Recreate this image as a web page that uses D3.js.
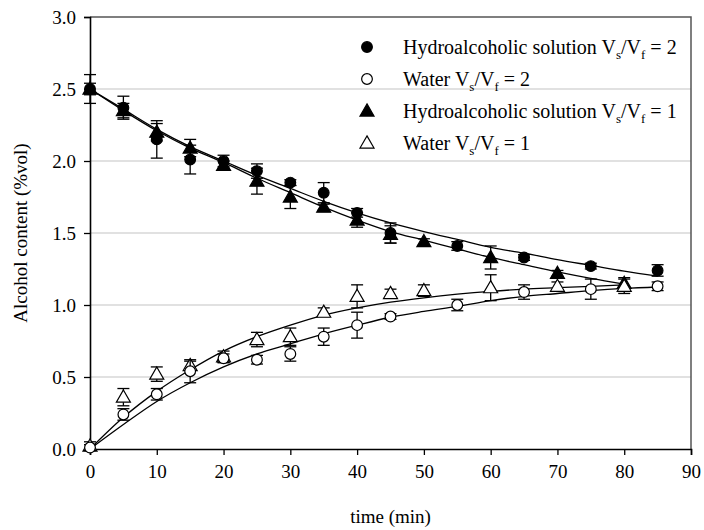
<!DOCTYPE html>
<html>
<head>
<meta charset="utf-8">
<script src="https://cdn.jsdelivr.net/npm/d3@7"></script>
<style>
body { margin: 0; background: white; }
text { font-family: "Liberation Serif", "Times New Roman", serif; }
</style>
</head>
<body>
<svg id="chart"></svg>
<script>
// sampling times (min)
const timeA = [0, 5, 10, 15, 20, 25, 30, 35, 40, 45, 55, 65, 75, 85]   // Vs/Vf = 2
const timeB = [0, 5, 10, 15, 20, 25, 30, 35, 40, 45, 50, 60, 70, 80]   // Vs/Vf = 1

// Vs/Vf = 2
const hydroA = [2.50, 2.37, 2.15, 2.01, 2.00, 1.93, 1.85, 1.78, 1.64, 1.50, 1.41, 1.33, 1.27, 1.24]
const hydroAErr = [0.10, 0.08, 0.13, 0.10, 0.04, 0.05, 0.02, 0.07, 0.03, 0.07, 0.03, 0.02, 0.02, 0.04]
const waterA = [0.01, 0.24, 0.38, 0.54, 0.63, 0.62, 0.66, 0.78, 0.86, 0.92, 1.00, 1.09, 1.11, 1.13]
const waterAErr = [0.02, 0.04, 0.04, 0.08, 0.03, 0.03, 0.05, 0.06, 0.09, 0.02, 0.04, 0.05, 0.07, 0.03]

// Vs/Vf = 1
const hydroB = [2.50, 2.35, 2.20, 2.09, 1.97, 1.86, 1.75, 1.68, 1.59, 1.49, 1.44, 1.33, 1.22, 1.15]
const hydroBErr = [0.04, 0.05, 0.06, 0.06, 0.03, 0.09, 0.08, 0.02, 0.05, 0.06, 0.02, 0.08, 0.02, 0.04]
const waterB = [0.02, 0.36, 0.52, 0.58, 0.64, 0.76, 0.78, 0.95, 1.06, 1.08, 1.10, 1.12, 1.13, 1.13]
const waterBErr = [0.03, 0.06, 0.05, 0.03, 0.04, 0.05, 0.06, 0.03, 0.08, 0.03, 0.04, 0.09, 0.03, 0.05]

// fitted curves, every 5 min
const fitTimeA = [0, 5, 10, 15, 20, 25, 30, 35, 40, 45, 50, 55, 60, 65, 70, 75, 80, 85]
const fitTimeB = [0, 5, 10, 15, 20, 25, 30, 35, 40, 45, 50, 55, 60, 65, 70, 75, 80]
const fitHydroA = [2.50, 2.36, 2.22, 2.10, 2.00, 1.90, 1.81, 1.72, 1.64, 1.57, 1.51, 1.455, 1.40, 1.36, 1.315, 1.275, 1.235, 1.20]
const fitWaterA = [0, 0.17, 0.33, 0.46, 0.57, 0.66, 0.73, 0.80, 0.86, 0.915, 0.955, 0.99, 1.03, 1.06, 1.08, 1.10, 1.115, 1.125]
const fitHydroB = [2.50, 2.35, 2.21, 2.09, 1.99, 1.88, 1.78, 1.68, 1.59, 1.51, 1.45, 1.39, 1.33, 1.28, 1.23, 1.185, 1.145]
const fitWaterB = [0, 0.22, 0.40, 0.55, 0.68, 0.78, 0.86, 0.93, 0.98, 1.02, 1.05, 1.075, 1.095, 1.11, 1.12, 1.13, 1.14]

// axis ticks
const xTicks = [0, 10, 20, 30, 40, 50, 60, 70, 80, 90]
const yTicks = [0.0, 0.5, 1.0, 1.5, 2.0, 2.5, 3.0]

// legend
const legendLabels = [
    {name: 'Hydroalcoholic solution V', ratio: '2', symbol: 'circle', fill: 'black'},
    {name: 'Water V', ratio: '2', symbol: 'circle', fill: 'white'},
    {name: 'Hydroalcoholic solution V', ratio: '1', symbol: 'triangle', fill: 'black'},
    {name: 'Water V', ratio: '1', symbol: 'triangle', fill: 'white'}
]

const w = 704, h = 530
const pLeft = 90, pRight = 691, pTop = 17, pBottom = 449

const svg = d3.select('#chart')
    .attr('width', w)
    .attr('height', h)

const x = d3.scaleLinear().domain([0, 90]).range([pLeft, pRight])
const y = d3.scaleLinear().domain([0, 3]).range([pBottom, pTop])

//grid
svg.append('g')
    .selectAll('line')
    .data(yTicks.filter(d => d > 0 && d < 3))
    .enter()
    .append('line')
    .attr('x1', pLeft)
    .attr('x2', pRight)
    .attr('y1', d => y(d))
    .attr('y2', d => y(d))
    .attr('stroke', '#c4c4c4')
    .attr('stroke-width', 1.2)

//frame top + right
svg.append('path')
    .attr('d', 'M' + pLeft + ',' + pTop + 'H' + pRight + 'V' + pBottom)
    .attr('fill', 'none')
    .attr('stroke', '#555')
    .attr('stroke-width', 1.5)

//axes
svg.append('g')
    .attr('transform', 'translate(0,' + pBottom + ')')
    .call(d3.axisBottom(x).tickValues(xTicks).tickFormat(d3.format('d')).tickSizeOuter(0).tickSize(6).tickPadding(10))

svg.append('g')
    .attr('transform', 'translate(' + pLeft + ',0)')
    .call(d3.axisLeft(y).tickValues(yTicks).tickFormat(d3.format('.1f')).tickSizeOuter(0).tickSize(6).tickPadding(8))

svg.selectAll('.domain')
    .attr('stroke', 'black')
    .attr('stroke-width', 1.6)
svg.selectAll('.tick line')
    .attr('stroke', 'black')
    .attr('stroke-width', 1.3)
svg.selectAll('.tick text')
    .attr('font-family', '"Liberation Serif", serif')
    .attr('font-size', 19)
    .attr('fill', 'black')

//axis titles
svg.append('text')
    .attr('x', (pLeft + pRight) / 2)
    .attr('y', 523)
    .attr('text-anchor', 'middle')
    .attr('font-size', 19)
    .text('time (min)')

svg.append('text')
    .attr('transform', 'translate(27,' + (pTop + pBottom) / 2 + ') rotate(-90)')
    .attr('text-anchor', 'middle')
    .attr('font-size', 19)
    .text('Alcohol content (%vol)')

//fitted curves
const line = d3.line()
    .x(d => x(d[0]))
    .y(d => y(d[1]))
    .curve(d3.curveMonotoneX)

const fits = [
    d3.zip(fitTimeA, fitHydroA),
    d3.zip(fitTimeA, fitWaterA),
    d3.zip(fitTimeB, fitHydroB),
    d3.zip(fitTimeB, fitWaterB)
]

svg.append('g')
    .selectAll('path')
    .data(fits)
    .enter()
    .append('path')
    .attr('d', line)
    .attr('fill', 'none')
    .attr('stroke', 'black')
    .attr('stroke-width', 1.3)

//series
const series = [
    {t: timeB, v: hydroB, e: hydroBErr, symbol: 'triangle', fill: 'black'},
    {t: timeA, v: hydroA, e: hydroAErr, symbol: 'circle', fill: 'black'},
    {t: timeB, v: waterB, e: waterBErr, symbol: 'triangle', fill: 'white'},
    {t: timeA, v: waterA, e: waterAErr, symbol: 'circle', fill: 'white'}
]

const capW = 6
const symCircle = d3.symbol().type(d3.symbolCircle).size(90)
const symTriangle = d3.symbol().type(d3.symbolTriangle).size(85)

series.forEach(s => {
    const pts = s.t.map((t, i) => ({t: t, v: s.v[i], e: s.e[i]}))
    const g = svg.append('g')

    //error bars
    const eb = g.selectAll('.err')
        .data(pts)
        .enter()
        .append('g')
        .attr('stroke', 'black')
        .attr('stroke-width', 1.3)

    eb.append('line')
        .attr('x1', d => x(d.t))
        .attr('x2', d => x(d.t))
        .attr('y1', d => y(d.v - d.e))
        .attr('y2', d => y(d.v + d.e))
    eb.append('line')
        .attr('x1', d => x(d.t) - capW)
        .attr('x2', d => x(d.t) + capW)
        .attr('y1', d => y(d.v + d.e))
        .attr('y2', d => y(d.v + d.e))
    eb.append('line')
        .attr('x1', d => x(d.t) - capW)
        .attr('x2', d => x(d.t) + capW)
        .attr('y1', d => y(d.v - d.e))
        .attr('y2', d => y(d.v - d.e))

    //markers
    g.selectAll('.mark')
        .data(pts)
        .enter()
        .append('path')
        .attr('d', s.symbol === 'circle' ? symCircle : symTriangle)
        .attr('transform', d => 'translate(' + x(d.t) + ',' + (y(d.v) + (s.symbol === 'triangle' ? 1 : 0)) + ')')
        .attr('fill', s.fill)
        .attr('stroke', 'black')
        .attr('stroke-width', 1.2)
})

//legend
const legend = svg.append('g')
    .attr('transform', 'translate(367,47)')

const rows = legend.selectAll('g')
    .data(legendLabels)
    .enter()
    .append('g')
    .attr('transform', (d, i) => 'translate(0,' + i * 32 + ')')

rows.append('path')
    .attr('d', d => d.symbol === 'circle' ? symCircle() : symTriangle())
    .attr('transform', d => d.symbol === 'triangle' ? 'translate(0,1)' : null)
    .attr('fill', d => d.fill)
    .attr('stroke', 'black')
    .attr('stroke-width', 1.2)

const label = rows.append('text')
    .attr('x', 36)
    .attr('y', 7)
    .attr('font-size', 20)

label.append('tspan').text(d => d.name)
label.append('tspan').attr('font-size', 13).attr('dy', 5).text('s')
label.append('tspan').attr('dy', -5).text('/V')
label.append('tspan').attr('font-size', 13).attr('dy', 5).text('f')
label.append('tspan').attr('dy', -5).text(d => ' = ' + d.ratio)
</script>
</body>
</html>
